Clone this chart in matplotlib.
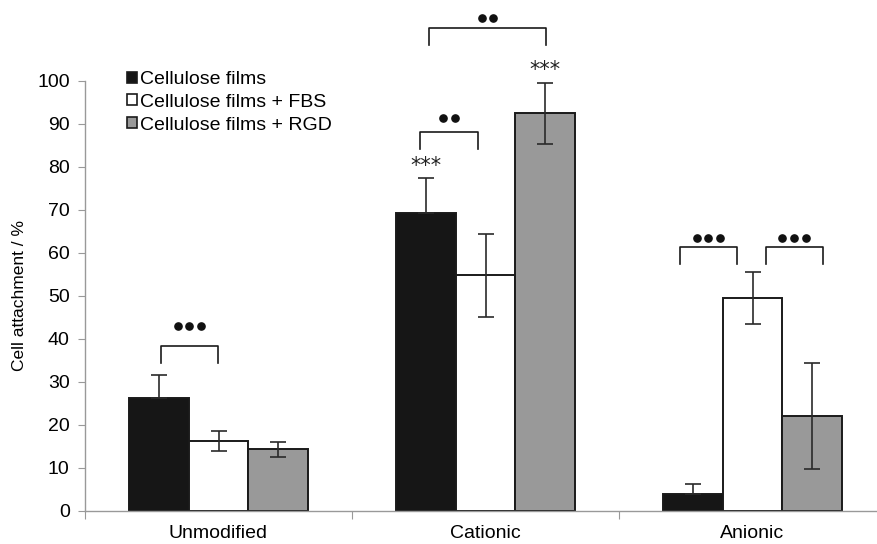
import matplotlib
matplotlib.use("Agg")
import matplotlib.pyplot as plt
import numpy as np
from matplotlib.patches import Patch

plt.rcParams['font.family'] = ['Liberation Sans', 'DejaVu Sans']

# Datos
categorias = ["Unmodified", "Cationic", "Anionic"]
series = ["Cellulose films", "Cellulose films + FBS", "Cellulose films + RGD"]
films = [26.3, 69.3, 3.8]
films_err = [5.3, 8.1, 2.4]
fbs = [16.2, 54.7, 49.5]
fbs_err = [2.4, 9.7, 6.0]
rgd = [14.3, 92.4, 22.0]
rgd_err = [1.7, 7.1, 12.4]

# corchetes de significancia: (x0, x1, altura, altura de puntos, n puntos)
corchetes = [
    (0.283, 0.498, 38.4, 43.0, 3),
    (1.255, 1.471, 88.1, 91.3, 2),
    (1.290, 1.725, 112.2, 114.7, 2),
    (2.228, 2.442, 61.4, 63.4, 3),
    (2.549, 2.763, 61.4, 63.4, 3),
]
# asteriscos: (x, y centro)
asteriscos = [(1.277, 81.6), (1.723, 104.0)]

colores = ["#161616", "#ffffff", "#999999"]
ancho = 0.223

fig = plt.figure(figsize=(8.77, 5.44), dpi=100)
ax = fig.add_axes([85 / 877, 33.3 / 544, 801 / 877, 510.7 / 544])

x = np.arange(len(categorias)) + 0.5
for i, (vals, errs) in enumerate([(films, films_err), (fbs, fbs_err), (rgd, rgd_err)]):
    pos = x + (i - 1) * ancho
    ax.bar(pos, vals, width=ancho, color=colores[i], edgecolor="#1a1a1a",
           linewidth=1.4, zorder=2)
    # en la barra negra solo se ve la parte de arriba
    if i == 0:
        yerr = [np.zeros(len(errs)), errs]
    else:
        yerr = errs
    ax.errorbar(pos, vals, yerr=yerr, fmt="none", ecolor="#2a2a2a",
                elinewidth=1.2, capsize=6, capthick=1.2, zorder=3)

# corchetes con puntos
sep = 11.7 / 267
for x0, x1, y, yp, n in corchetes:
    ax.plot([x0, x0, x1, x1], [y - 4, y, y, y - 4], color="#1a1a1a", lw=1.2,
            clip_on=False, zorder=4)
    xc = (x0 + x1) / 2
    xs = xc + (np.arange(n) - (n - 1) / 2) * sep
    ax.plot(xs, [yp] * n, "o", color="#111111", markersize=5.2, clip_on=False)

for xa, ya in asteriscos:
    ax.text(xa, ya - 2.9, "***", ha="center", va="baseline", fontsize=15,
            family="DejaVu Sans", color="#222222")

ax.set_xlim(0, 3)
ax.set_ylim(0, 118.77)
ax.set_yticks(np.arange(0, 101, 10))
ax.set_xticks([0, 1, 2, 3])
ax.set_xticklabels([])
ax.set_xticks(x, minor=True)
ax.set_xticklabels(categorias, minor=True, fontsize=14)
ax.tick_params(axis="x", which="minor", length=0, pad=10)
ax.tick_params(axis="x", which="major", length=6, color="#999999")
ax.tick_params(axis="y", length=5, color="#999999", labelsize=14, pad=6)

for lado in ["top", "right"]:
    ax.spines[lado].set_visible(False)
ax.spines["left"].set_bounds(0, 100)
ax.spines["left"].set_color("#999999")
ax.spines["bottom"].set_color("#999999")
ax.spines["left"].set_linewidth(1.0)
ax.spines["bottom"].set_linewidth(1.0)

ax.set_ylabel("Cell attachment / %", fontsize=12.5)
ax.yaxis.set_label_coords((27 - 85) / 801, 50 / 118.77)

manijas = [Patch(facecolor=c, edgecolor="#1a1a1a", linewidth=1.2) for c in colores]
ax.legend(manijas, series, loc="upper left", bbox_to_anchor=(127 / 877, 1 - 71 / 544),
          bbox_transform=fig.transFigure, frameon=False, fontsize=14,
          handlelength=0.5, handleheight=0.5, handletextpad=0.15,
          labelspacing=0.3, borderpad=0, borderaxespad=0)

fig.savefig("out.png", dpi=100)
